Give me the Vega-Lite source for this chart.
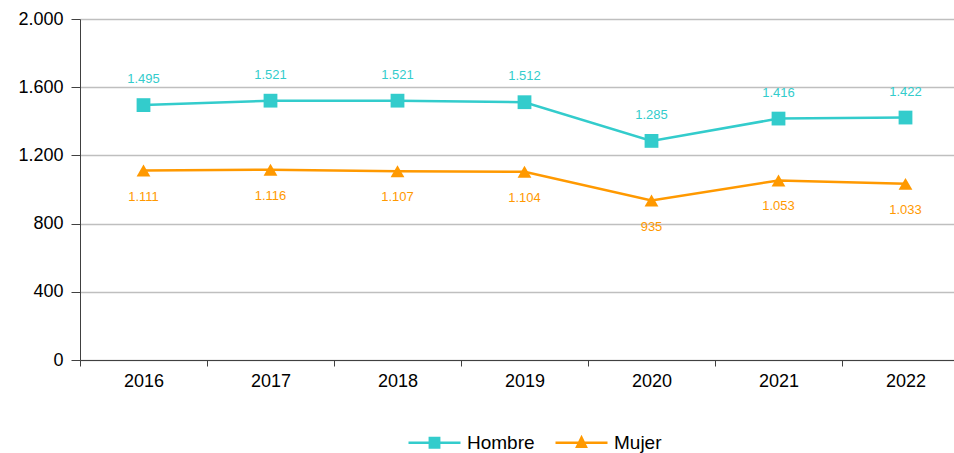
{
  "$schema": "https://vega.github.io/schema/vega-lite/v6.json",
  "width": 874,
  "height": 341,
  "autosize": {"type": "none"},
  "padding": {"left": 80, "top": 19, "right": 0, "bottom": 93},
  "config": {
    "font": "Liberation Sans",
    "view": {"stroke": null},
    "locale": {"number": {"decimal": ",", "thousands": ".", "grouping": [3], "currency": ["", " €"]}}
  },
  "data": {
    "values": [
      {"year": "2016", "sexo": "Hombre", "valor": 1495},
      {"year": "2017", "sexo": "Hombre", "valor": 1521},
      {"year": "2018", "sexo": "Hombre", "valor": 1521},
      {"year": "2019", "sexo": "Hombre", "valor": 1512},
      {"year": "2020", "sexo": "Hombre", "valor": 1285},
      {"year": "2021", "sexo": "Hombre", "valor": 1416},
      {"year": "2022", "sexo": "Hombre", "valor": 1422},
      {"year": "2016", "sexo": "Mujer", "valor": 1111},
      {"year": "2017", "sexo": "Mujer", "valor": 1116},
      {"year": "2018", "sexo": "Mujer", "valor": 1107},
      {"year": "2019", "sexo": "Mujer", "valor": 1104},
      {"year": "2020", "sexo": "Mujer", "valor": 935},
      {"year": "2021", "sexo": "Mujer", "valor": 1053},
      {"year": "2022", "sexo": "Mujer", "valor": 1033}
    ]
  },
  "encoding": {
    "x": {
      "field": "year", "type": "nominal", "title": null,
      "scale": {"type": "band", "paddingInner": 0, "paddingOuter": 0, "range": [0, 889]},
      "axis": {"labelAngle": 0, "tickBand": "extent", "labelFontSize": 18, "labelColor": "#000000", "labelPadding": 6,
               "domainColor": "#404040", "tickColor": "#404040", "tickSize": 6, "grid": false}
    },
    "y": {
      "field": "valor", "type": "quantitative", "title": null,
      "scale": {"domain": [0, 2000], "nice": false},
      "axis": {"values": [0, 400, 800, 1200, 1600, 2000], "format": ",.0f", "labelFontSize": 18, "labelColor": "#000000",
               "labelPadding": 8, "domainColor": "#404040", "tickColor": "#404040", "tickSize": 9,
               "grid": true, "gridColor": "#BFBFBF", "gridWidth": 1.3}
    },
    "color": {
      "field": "sexo", "type": "nominal",
      "scale": {"domain": ["Hombre", "Mujer"], "range": ["#33CCCC", "#FF9900"]},
      "legend": {
        "title": null, "orient": "none", "direction": "horizontal", "legendX": 327, "legendY": 396,
        "symbolSize": 2704, "symbolStrokeWidth": 2.5, "labelFontSize": 19, "labelColor": "#000000",
        "labelOffset": 5, "columnPadding": 15,
        "encode": {"symbols": {"update": {
          "shape": {"signal": "datum.value === 'Hombre' ? 'M-1,0H1M-0.18,-0.18H0.18V0.18H-0.18Z' : 'M-1,0H1M0,-0.2L0.17,0.15H-0.17Z'"},
          "fill": {"signal": "datum.value === 'Hombre' ? '#33CCCC' : '#FF9900'"},
          "stroke": {"signal": "datum.value === 'Hombre' ? '#33CCCC' : '#FF9900'"},
          "fillOpacity": {"value": 1},
          "strokeWidth": {"value": 2.5}
        }}}
      }
    }
  },
  "layer": [
    {"mark": {"type": "line", "strokeWidth": 2.5}},
    {
      "transform": [{"filter": "datum.sexo === 'Hombre'"}],
      "mark": {"type": "point", "filled": true, "opacity": 1, "size": 190, "shape": "square"}
    },
    {
      "transform": [{"filter": "datum.sexo === 'Mujer'"}],
      "mark": {"type": "point", "filled": true, "opacity": 1, "size": 190, "shape": "triangle-up"}
    },
    {
      "transform": [{"filter": "datum.sexo === 'Hombre'"}],
      "mark": {"type": "text", "dy": -26, "fontSize": 13},
      "encoding": {"text": {"field": "valor", "type": "quantitative", "format": ",.0f"}}
    },
    {
      "transform": [{"filter": "datum.sexo === 'Mujer'"}],
      "mark": {"type": "text", "dy": 26, "fontSize": 13},
      "encoding": {"text": {"field": "valor", "type": "quantitative", "format": ",.0f"}}
    }
  ]
}
